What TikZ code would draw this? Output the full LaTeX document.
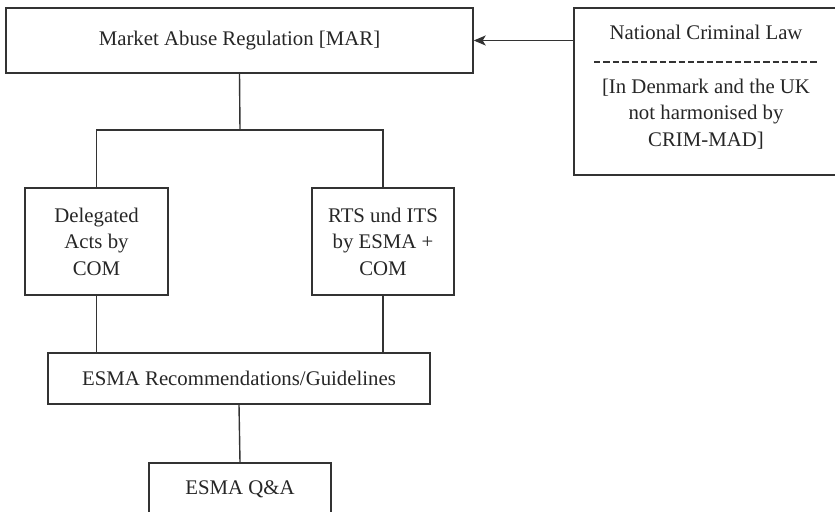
\documentclass[tikz,border=0pt]{standalone}
\usepackage{fontspec}
\setmainfont{Liberation Serif}
\usetikzlibrary{arrows.meta}
\begin{document}
\begin{tikzpicture}[x=0.5pt,y=-0.5pt,
  every node/.style={font=\fontsize{10.4}{13.25}\selectfont, text=black!85},
  box/.style={draw=black!80, line width=0.7pt, inner sep=0pt, align=center},
  conn/.style={draw=black!80, line width=0.7pt},
  lbl/.style={inner sep=0pt, align=center}]
\useasboundingbox (0,0) rectangle (835,512);
\clip (0,0) rectangle (835,512);
% boxes
\node[box, minimum width=233.5pt, minimum height=32.5pt] (mar) at (239.5,40.5) {Market Abuse Regulation [MAR]};
\node[box, minimum width=132pt, minimum height=83.5pt] (ncl) at (706,91.5) {};
\node[box, minimum width=71.5pt, minimum height=53.5pt] (del) at (96.5,241.5) {Delegated\\Acts by\\COM};
\node[box, minimum width=71pt, minimum height=53.5pt] (rts) at (383,241.5) {RTS und ITS\\by ESMA +\\COM};
\node[box, minimum width=191pt, minimum height=25.5pt] (rec) at (239,378.5) {ESMA Recommendations/Guidelines};
\node[box, minimum width=91pt, minimum height=26.5pt] (qa) at (240,489.5) {ESMA Q\&A};
% texts in the national criminal law box
\node[lbl] (ncltitle) at (706,32) {National Criminal Law};
\node[lbl] (ncltext) at (706,114) {[In Denmark and the UK\\not harmonised by\\CRIM-MAD]};
\coordinate (dl) at (594,62);
\coordinate (dr) at (818,62);
\draw[conn, line width=0.6pt, dash pattern=on 3.2pt off 1.5pt] (dl) -- (dr);
% connectors
\coordinate (j) at (240,130);
\draw[conn] (mar.south) -- (j);
\draw[conn] (del.north) |- (j) -| (rts.north);
\draw[conn] (del.south) -- (del.south |- rec.north);
\draw[conn] (rts.south) -- (rts.south |- rec.north);
\draw[conn] (rec.south) -- (qa.north);
\draw[conn, -{Stealth[length=6pt,width=5pt,inset=1.5pt]}] (mar.east -| ncl.west) -- (mar.east);
\end{tikzpicture}
\end{document}
